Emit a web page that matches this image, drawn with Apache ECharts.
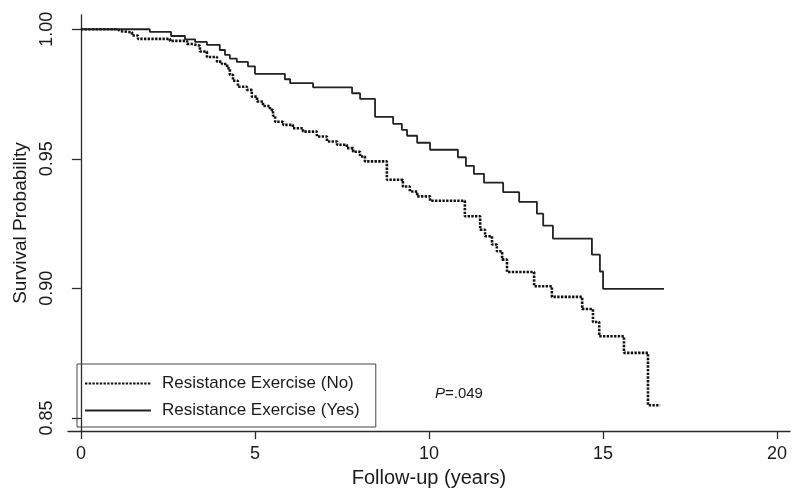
<!DOCTYPE html>
<html lang="en">

<head>
    <meta charset="UTF-8">
    <title>Survival by resistance exercise</title>
    <script src="https://cdn.jsdelivr.net/npm/echarts@6.0.0/dist/echarts.min.js"></script>
    <style>
        body { margin: 0; background: #ffffff; }
        #myecharts { width: 794px; height: 493px; }
    </style>
</head>

<body>
    <div id="myecharts"></div>
</body>

<script>
    // Kaplan-Meier steps: time (years) and survival
    var noTime = [0, 1.06, 1.12, 1.47, 1.64, 2.56, 3.05, 3.19, 3.42, 3.62, 3.91, 4.05, 4.20, 4.28, 4.37, 4.51,
        4.77, 4.91, 5.06, 5.23, 5.43, 5.52, 5.58, 5.81, 6.09, 6.38, 6.78, 7.07, 7.36, 7.64, 7.82, 8.02, 8.16,
        8.79, 9.25, 9.45, 9.66, 10.03, 11.03, 11.47, 11.61, 11.81, 11.95, 12.10, 12.24, 13.02, 13.53, 14.40,
        14.71, 14.89, 15.60, 16.29, 16.64];
    var noSurv = [1.000, 0.9993, 0.9988, 0.9976, 0.9963, 0.9955, 0.9943, 0.9936, 0.9914, 0.9893, 0.9875, 0.9866,
        0.9850, 0.9824, 0.9801, 0.9778, 0.9766, 0.9740, 0.9721, 0.9704, 0.9689, 0.9666, 0.9643, 0.9631, 0.9618,
        0.9605, 0.9586, 0.9567, 0.9554, 0.9541, 0.9527, 0.9509, 0.9490, 0.9419, 0.9393, 0.9374, 0.9355, 0.9338,
        0.9278, 0.9226, 0.9201, 0.9169, 0.9143, 0.9111, 0.9063, 0.9008, 0.8967, 0.8920, 0.8870, 0.8815, 0.8751,
        0.8549, 0.8549];

    var yesTime = [0, 1.98, 2.59, 2.99, 3.28, 3.62, 3.99, 4.14, 4.28, 4.48, 4.80, 5.00, 5.86, 6.01, 6.67, 7.79,
        8.02, 8.45, 8.97, 9.22, 9.37, 9.66, 10.03, 10.83, 11.06, 11.29, 11.58, 12.13, 12.59, 13.10, 13.28, 13.56,
        14.68, 14.91, 15.00, 16.75];
    var yesSurv = [1.000, 0.9990, 0.9974, 0.9961, 0.9951, 0.9940, 0.9920, 0.9901, 0.9887, 0.9874, 0.9857, 0.9828,
        0.9807, 0.9792, 0.9776, 0.9753, 0.9731, 0.9662, 0.9635, 0.9612, 0.9589, 0.9562, 0.9535, 0.9506, 0.9473,
        0.9442, 0.9408, 0.9371, 0.9334, 0.9288, 0.9242, 0.9192, 0.9130, 0.9065, 0.8998, 0.8998];

    var xTicks = [0, 5, 10, 15, 20];
    var yTicks = [0.85, 0.90, 0.95, 1.00];
    var seriesNames = ['Resistance Exercise (No)', 'Resistance Exercise (Yes)'];

    function pairs(t, s) {
        return t.map(function (v, i) { return [v, s[i]]; });
    }

    var font = 'Liberation Sans, Arial, sans-serif';
    var ink = '#1a1a1a';

    var myChart = echarts.init(document.getElementById('myecharts'));
    myChart.setOption({
        animation: false,
        backgroundColor: '#ffffff',
        color: ['#111', '#222'],
        textStyle: { fontFamily: font, color: ink },
        grid: { left: 68, right: 4, top: 15, bottom: 61 },
        xAxis: {
            type: 'value',
            min: -0.37,
            max: 20.37,
            name: 'Follow-up (years)',
            nameLocation: 'middle',
            nameGap: 29,
            nameTextStyle: { fontSize: 20, color: ink, fontFamily: font },
            axisLine: { lineStyle: { color: '#2a2a2a', width: 1.3 } },
            axisTick: { customValues: xTicks, length: 8, lineStyle: { color: '#2a2a2a', width: 1.3 } },
            axisLabel: { customValues: xTicks, fontSize: 18, color: ink, margin: 14 },
            splitLine: { show: false }
        },
        yAxis: {
            type: 'value',
            min: 0.8449,
            max: 1.0055,
            name: 'Survival Probability',
            nameLocation: 'middle',
            nameRotate: 90,
            nameGap: 38,
            nameTextStyle: { fontSize: 19, color: ink, fontFamily: font },
            axisLine: { show: true, lineStyle: { color: '#2a2a2a', width: 1.3 } },
            axisTick: { show: true, customValues: yTicks, length: 9, lineStyle: { color: '#2a2a2a', width: 1.3 } },
            axisLabel: {
                customValues: yTicks,
                rotate: 90,
                fontSize: 18,
                color: ink,
                margin: 12,
                formatter: function (v) { return v.toFixed(2); }
            },
            splitLine: { show: false }
        },
        legend: {
            orient: 'vertical',
            left: 77,
            top: 364,
            itemWidth: 66,
            itemHeight: 14,
            itemGap: 10,
            padding: [11, 16, 8, 7],
            borderColor: '#444',
            borderWidth: 1,
            itemStyle: { opacity: 0 },
            textStyle: { fontSize: 17, color: ink, fontFamily: font, padding: [0, 0, 0, 6] },
            data: seriesNames
        },
        graphic: [{
            type: 'text',
            left: 435,
            top: 386,
            style: {
                text: '{i|P}=.049',
                fontSize: 15,
                fontFamily: font,
                fill: ink,
                rich: { i: { fontStyle: 'italic', fontSize: 15, fontFamily: font, fill: ink } }
            }
        }],
        series: [
            {
                name: seriesNames[0],
                type: 'line',
                step: 'end',
                symbol: 'none',
                data: pairs(noTime, noSurv),
                lineStyle: { color: '#111', width: 2.6, type: [2.4, 1.3] }
            },
            {
                name: seriesNames[1],
                type: 'line',
                step: 'end',
                symbol: 'none',
                data: pairs(yesTime, yesSurv),
                lineStyle: { color: '#222', width: 1.8, type: 'solid' }
            }
        ]
    });
</script>

</html>
